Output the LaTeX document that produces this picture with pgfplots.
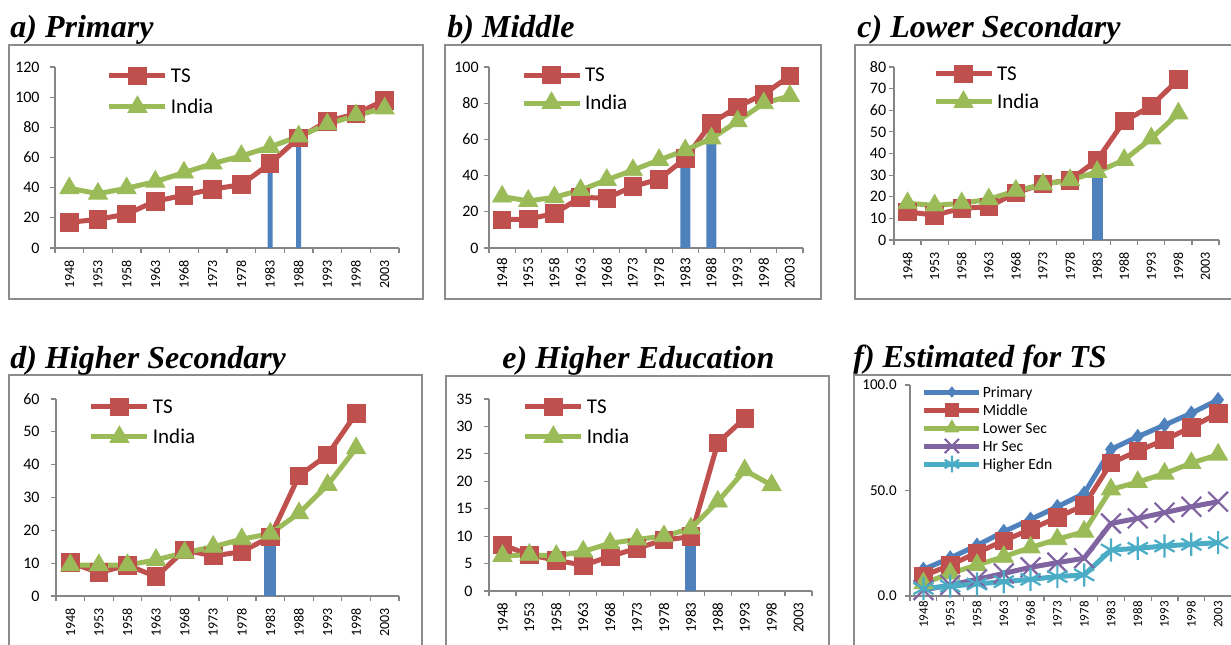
\documentclass[border=0pt]{standalone}
\usepackage{fontspec}
\setmainfont{Carlito}
\newfontfamily\titlefont{Liberation Serif}
\usepackage{pgfplots}
\pgfplotsset{compat=1.18}
\definecolor{tsred}{HTML}{C0504D}
\definecolor{ingreen}{HTML}{9BBB59}
\definecolor{barblue}{HTML}{4F81BD}
\definecolor{hrpurple}{HTML}{8064A2}
\definecolor{edcyan}{HTML}{4BACC6}
\definecolor{axgray}{HTML}{868686}
\definecolor{framegray}{HTML}{8C8C8C}
\pgfplotsset{
  excel/.style={
    scale only axis, anchor=south west, clip=false,
    axis x line*=bottom, axis y line*=left,
    axis line style={draw=axgray, line width=0.6pt, -},
    tick align=outside, major tick length=2.5pt, minor tick length=2.5pt,
    every tick/.append style={draw=axgray, line width=0.6pt},
    major x tick style={draw=none},
    xmin=-0.5, xmax=11.5, xtick={0,...,11},
    xticklabels={1948,1953,1958,1963,1968,1973,1978,1983,1988,1993,1998,2003},
    minor xtick={-0.5,0.5,1.5,2.5,3.5,4.5,5.5,6.5,7.5,8.5,9.5,10.5,11.5},
    ymin=0,
    xticklabel style={rotate=90, anchor=east, inner sep=0pt, font=\fontsize{7}{8}\selectfont},
    yticklabel style={anchor=east, inner sep=0pt, font=\fontsize{8}{9}\selectfont},
    /pgf/number format/assume math mode=true,
    tick label style={text=black},
    legend cell align=left,
    legend style={draw=none, fill=none, inner sep=0pt, outer sep=0pt, anchor=north west,
      font=\fontsize{10.5}{12}\selectfont,
      nodes={inner xsep=1.5pt, inner ysep=0pt, text height=6.8pt, text depth=0pt}},
    legend image code/.code={\path (0pt,0pt) -- (28pt,0pt);
      \draw[overlay, mark repeat=2, mark phase=2] plot coordinates {(0pt,0pt) (14pt,0pt) (28pt,0pt)};},
  },
  tsline/.style={tsred, line width=2.5pt, mark=square*, mark size=4.4pt,
    mark options={solid, fill=tsred, draw=tsred, line width=0.4pt}},
  inline/.style={ingreen, line width=2.5pt, mark=triangle*, mark size=5.5pt,
    mark options={solid, fill=ingreen, draw=ingreen, line width=0.4pt}},
  barst/.style={ybar, fill=barblue, draw=none, forget plot},
}
\newcommand{\ptitle}[3]{\node[anchor=base west, inner sep=0pt, font=\titlefont\bfseries\itshape\fontsize{16}{18}\selectfont] at (#1,#2) {#3};}
\begin{document}
\begin{tikzpicture}
\useasboundingbox (0pt,0pt) rectangle (615.5pt,322pt);
% frames
\draw[framegray, line width=1pt] (4.5pt,172.5pt) rectangle (211.5pt,299.5pt);
\draw[framegray, line width=1pt] (222.5pt,172.5pt) rectangle (410.5pt,299.5pt);
\draw[framegray, line width=1pt] (427.5pt,172.5pt) rectangle (625pt,299.5pt);
\draw[framegray, line width=1pt] (4.5pt,-5pt) rectangle (211pt,134.5pt);
\draw[framegray, line width=1pt] (223pt,-5pt) rectangle (414.5pt,134pt);
\draw[framegray, line width=1pt] (427pt,-5pt) rectangle (625pt,134.5pt);
% titles
\ptitle{5pt}{303pt}{a) Primary}
\ptitle{223.5pt}{303pt}{b) Middle}
\ptitle{428.5pt}{303pt}{c) Lower Secondary}
\ptitle{5pt}{138pt}{d) Higher Secondary}
\ptitle{251pt}{138pt}{e) Higher Education}
\ptitle{426.5pt}{138.5pt}{f) Estimated for TS}

% a) Primary
\begin{axis}[excel, at={(27.5pt,198pt)}, width=172pt, height=90.5pt,
  ymax=120, ytick={0,20,...,120}, xticklabel shift=3.5pt, yticklabel shift=5pt,
  legend style={at={(0.151,0.988)}, row sep=8.7pt}]
\addplot[barst, bar width=2.5pt] coordinates {(7,55) (8,70)};
\addplot[tsline] coordinates {(0,17) (1,19) (2,22.5) (3,31) (4,35) (5,39) (6,42) (7,56) (8,73) (9,84) (10,89) (11,98)};
\addplot[inline] coordinates {(0,39.6) (1,36) (2,39.6) (3,44) (4,50) (5,56) (6,61) (7,67) (8,74) (9,82) (10,88) (11,92.5)};
\legend{TS,India}
\end{axis}

% b) Middle
\begin{axis}[excel, at={(244.5pt,198pt)}, width=157pt, height=90.5pt,
  ymax=100, ytick={0,20,...,100}, xticklabel shift=2.5pt, yticklabel shift=2.5pt,
  xticklabel style={font=\fontsize{7.5}{8.5}\selectfont},
  legend style={at={(0.102,0.993)}, row sep=7.2pt}]
\addplot[barst, bar width=5pt] coordinates {(7,48) (8,58)};
\addplot[tsline] coordinates {(0,15.6) (1,16) (2,19) (3,28) (4,27.5) (5,34) (6,38) (7,49.5) (8,69) (9,78) (10,85) (11,95)};
\addplot[inline] coordinates {(0,28.4) (1,26) (2,28) (3,32) (4,37.6) (5,43) (6,48.6) (7,54) (8,60.5) (9,70) (10,80) (11,84)};
\legend{TS,India}
\end{axis}

% c) Lower Secondary
\begin{axis}[excel, at={(447pt,202pt)}, width=162.5pt, height=86.5pt,
  ymax=80, ytick={0,10,...,80}, xticklabel shift=3.5pt, yticklabel shift=1.25pt,
  legend style={at={(0.12,0.999)}, row sep=7.2pt}]
\addplot[barst, bar width=5.5pt] coordinates {(7,30)};
\addplot[tsline] coordinates {(0,13) (1,11.5) (2,14.6) (3,15.4) (4,21.8) (5,26) (6,27.7) (7,37) (8,55) (9,62) (10,74.3)};
\addplot[inline] coordinates {(0,17) (1,16) (2,17) (3,18.8) (4,22.8) (5,25.7) (6,27.7) (7,31.5) (8,37) (9,47) (10,58.5)};
\legend{TS,India}
\end{axis}

% d) Higher Secondary
\begin{axis}[excel, at={(28pt,24pt)}, width=171.5pt, height=98.5pt,
  ymax=60, ytick={0,10,...,60}, xticklabel shift=3.5pt, yticklabel shift=5.5pt,
  legend style={at={(0.096,0.994)}, row sep=8.2pt}]
\addplot[barst, bar width=6pt] coordinates {(7,17)};
\addplot[tsline] coordinates {(0,10.2) (1,7.1) (2,9.4) (3,5.9) (4,14) (5,12.2) (6,13.5) (7,18) (8,36.6) (9,43) (10,55.6)};
\addplot[inline] coordinates {(0,9.4) (1,9.4) (2,9.4) (3,11) (4,13.2) (5,15) (6,17.3) (7,19) (8,25.2) (9,33.8) (10,45)};
\legend{TS,India}
\end{axis}

% e) Higher Education
\begin{axis}[excel, at={(244.5pt,26.5pt)}, width=161.5pt, height=96pt,
  ymax=35, ytick={0,5,...,35}, xticklabel shift=3pt, yticklabel shift=5.5pt,
  xticklabel style={font=\fontsize{7.5}{8.5}\selectfont},
  legend style={at={(0.105,0.994)}, row sep=8.2pt}]
\addplot[barst, bar width=5.5pt] coordinates {(7,9.5)};
\addplot[tsline] coordinates {(0,8.4) (1,6.6) (2,5.6) (3,4.7) (4,6.3) (5,7.8) (6,9.3) (7,9.9) (8,27) (9,31.5)};
\addplot[inline] coordinates {(0,6.4) (1,6.6) (2,6.4) (3,7.2) (4,8.7) (5,9.4) (6,10) (7,11.4) (8,16.3) (9,22) (10,19.3)};
\legend{TS,India}
\end{axis}

% f) Estimated for TS
\begin{axis}[excel, at={(455pt,24pt)}, width=160.75pt, height=105.5pt,
  ymax=100, ytick={0,50,100}, xticklabel shift=0pt, yticklabel shift=4pt,
  yticklabel style={font=\fontsize{7.5}{8.5}\selectfont,
    /pgf/number format/fixed, /pgf/number format/fixed zerofill, /pgf/number format/precision=1},
  xticklabel style={font=\fontsize{6.5}{7.5}\selectfont},
  legend style={at={(0.037,0.9905)}, row sep=4pt, font=\fontsize{7.8}{9}\selectfont,
    nodes={inner xsep=0.5pt, inner ysep=0pt, text height=5pt, text depth=0pt}},
  legend image code/.code={\path (0pt,0pt) -- (27.5pt,0pt);
      \draw[overlay, mark repeat=2, mark phase=2, /tikz/every mark/.append style={scale=0.72}] plot coordinates {(0pt,0pt) (13.75pt,0pt) (27.5pt,0pt)};}]
\addplot[barblue, line width=2.5pt, mark=diamond*, mark size=3.6pt, mark options={solid, fill=barblue, draw=barblue, line width=0.4pt}]
  coordinates {(0,12.6) (1,18) (2,24) (3,30.5) (4,36.3) (5,42.3) (6,48.6) (7,69.5) (8,75.5) (9,81) (10,86.6) (11,93)};
\addplot[tsline] coordinates {(0,9.5) (1,14.7) (2,20.5) (3,26.2) (4,31.6) (5,37.3) (6,43) (7,63) (8,68.7) (9,74) (10,80) (11,86.6)};
\addplot[inline] coordinates {(0,6) (1,10.7) (2,14.7) (3,18.6) (4,23) (5,26.9) (6,30.5) (7,50.5) (8,54) (9,58) (10,63) (11,67)};
\addplot[hrpurple, line width=2.5pt, mark=x, mark size=7pt, mark options={solid, draw=hrpurple, line width=1.1pt}]
  coordinates {(0,2.8) (1,5.2) (2,7.9) (3,10.7) (4,13.6) (5,15.8) (6,17.9) (7,34.4) (8,36.8) (9,39.5) (10,42.3) (11,44.7)};
\addplot[edcyan, line width=2.5pt, mark=asterisk, mark size=5.8pt, mark options={solid, draw=edcyan, line width=1.1pt}]
  coordinates {(0,3.6) (1,4.7) (2,5.7) (3,6.8) (4,7.9) (5,9.2) (6,10) (7,21.8) (8,22.6) (9,23.7) (10,24.5) (11,25.3)};
\legend{Primary,Middle,Lower Sec,Hr Sec,Higher Edn}
\end{axis}
\end{tikzpicture}
\end{document}
